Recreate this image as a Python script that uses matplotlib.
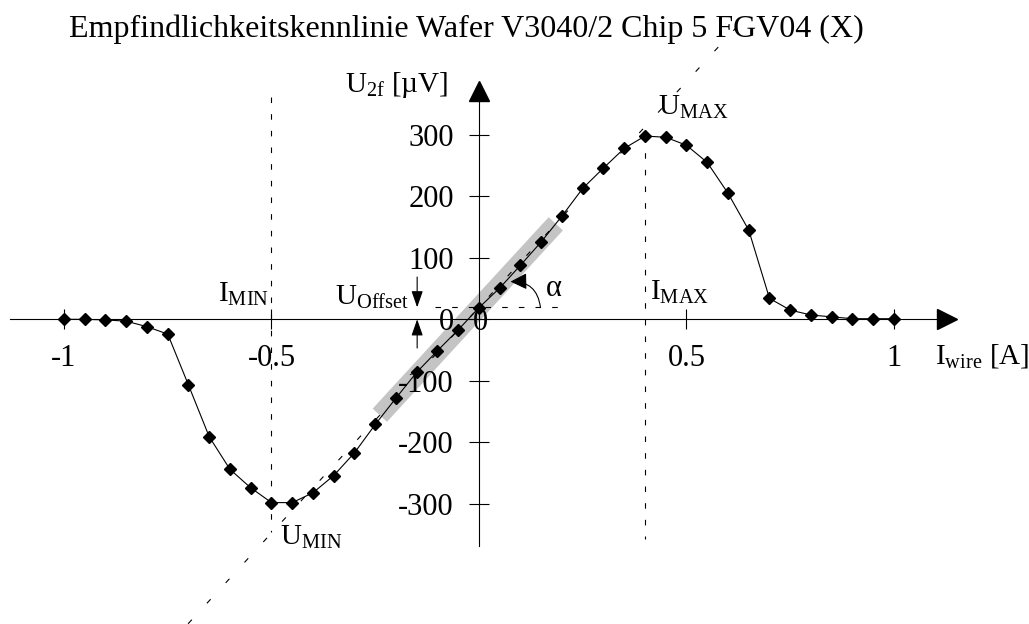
import matplotlib.pyplot as plt
import numpy as np

plt.rcParams['font.family'] = ['Liberation Serif', 'DejaVu Serif']
plt.rcParams['mathtext.fontset'] = 'custom'
plt.rcParams['mathtext.rm'] = 'Liberation Serif'
plt.rcParams['mathtext.it'] = 'Liberation Serif:italic'

# Measured sensitivity curve, wire current [A] vs 2f signal [uV]
i_wire = [-1.00, -0.95, -0.90, -0.85, -0.80, -0.75, -0.70, -0.65, -0.60, -0.55,
          -0.50, -0.45, -0.40, -0.35, -0.30, -0.25, -0.20, -0.15, -0.10, -0.05,
          0.00, 0.05, 0.10, 0.15, 0.20, 0.25, 0.30, 0.35, 0.40, 0.45,
          0.50, 0.55, 0.60, 0.65, 0.70, 0.75, 0.80, 0.85, 0.90, 0.95, 1.00]
u_2f = [0, 0, -1, -3, -12, -24, -107, -191, -244, -274,
        -298, -298, -282, -254, -217, -171, -128, -86, -51, -17,
        19, 51, 88, 126, 168, 213, 246, 278, 298, 296,
        283, 255, 205, 145, 34, 15, 7, 4, 1, 1, 1]

# Linear fit through the steep middle part
fit_slope = 734.0    # uV / A
fit_offset = 19.5    # uV
i_min = -0.5
i_max = 0.4

x_ticks = [-1, -0.5, 0.5, 1]
x_ticklabels = ['-1', '-0.5', '0.5', '1']
y_ticks = [-300, -200, -100, 0, 100, 200, 300]
y_ticklabels = ['-300', '-200', '-100', '0', '100', '200', '300']

title = 'Empfindlichkeitskennlinie Wafer V3040/2 Chip 5 FGV04 (X)'


def fit(x):
    return fit_slope * np.asarray(x) + fit_offset


fig = plt.figure(figsize=(10.29, 6.24), dpi=100)
ax = fig.add_axes([0, 0, 1, 1])
ax.set_xlim(-1.1542, 1.3253)
ax.set_ylim(-495.4, 519.2)

# axes through the origin with arrow heads
for side in ['top', 'right']:
    ax.spines[side].set_visible(False)
for side in ['left', 'bottom']:
    ax.spines[side].set_position(('data', 0))
    ax.spines[side].set_linewidth(0.8)
ax.spines['bottom'].set_bounds(-1.13, 1.128)
ax.spines['left'].set_bounds(-368.6, 371)
ax.plot([1.128], [0], marker='>', ms=14, color='k', clip_on=False)
ax.plot([0], [371], marker='^', ms=14, color='k', clip_on=False)

ax.set_xticks(x_ticks, x_ticklabels)
ax.set_yticks(y_ticks, y_ticklabels)
ax.tick_params(direction='inout', length=14, width=0.8, labelsize=22)
ax.tick_params(axis='x', pad=11)
ax.tick_params(axis='y', pad=11)
ax.text(0.0024, -4.4, '0', fontsize=22, ha='center', va='center')

# fit line, highlighted linear range and helper lines
xf = np.array([-0.701, 0.658])
ax.plot(xf, fit(xf), color='k', lw=0.8, dashes=(5, 20))
xb = np.array([-0.239, 0.185])
ax.plot(xb, fit(xb), color='#c4c4c4', lw=14, solid_capstyle='butt', zorder=1)
ax.plot([i_min, i_min], [361, -346], color='k', lw=0.8, dashes=(5, 10))
ax.plot([i_max, i_max], [298, -358], color='k', lw=0.8, dashes=(5, 10))
ax.plot([-0.106, 0.212], [fit_offset, fit_offset], color='k', lw=0.8, dashes=(5, 10))

# measurement
ax.plot(i_wire, u_2f, color='k', lw=0.8, marker='D', ms=6.5, zorder=4)

# offset arrows and slope angle
head = dict(color='k', lw=0.8, shrinkA=0, shrinkB=0, mutation_scale=10)
ax.annotate('', xy=(-0.149, fit_offset), xytext=(-0.149, 68.8),
            arrowprops=dict(arrowstyle='-|>,head_length=1.0,head_width=0.35', **head))
ax.annotate('', xy=(-0.149, 0), xytext=(-0.149, -46.7),
            arrowprops=dict(arrowstyle='-|>,head_length=1.0,head_width=0.35', **head))
ax.annotate('', xy=(0.076, 61.3), xytext=(0.148, fit_offset),
            arrowprops=dict(arrowstyle='-|>,head_length=1.0,head_width=0.5',
                            connectionstyle='arc3,rad=0.45', **head))
ax.text(0.1807, 50.9, 'α', fontsize=22, ha='center', va='center')

# labels
ax.text(-0.3229, 369.6, r'U$_\mathrm{2f}$ [µV]', fontsize=21, va='baseline')
ax.text(1.0988, -71.5, r'I$_\mathrm{wire}$ [A]', fontsize=21, va='baseline')
ax.text(-0.6289, 28.6, r'I$_\mathrm{MIN}$', fontsize=21, va='baseline')
ax.text(0.412, 31.4, r'I$_\mathrm{MAX}$', fontsize=21, va='baseline')
ax.text(0.4313, 332.2, r'U$_\mathrm{MAX}$', fontsize=21, va='baseline')
ax.text(-0.4795, -367, r'U$_\mathrm{MIN}$', fontsize=21, va='baseline')
ax.text(-0.347, 23.3, r'U$_\mathrm{Offset}$', fontsize=21, va='baseline')

fig.text(69 / 1029, 1 - 37 / 624, title, fontsize=23, va='baseline')

plt.savefig('out.png', dpi=100)
